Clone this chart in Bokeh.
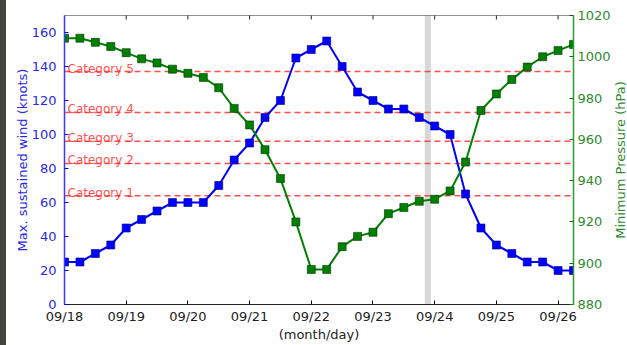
import math
import pandas as pd
from bokeh.plotting import figure
from bokeh.models import (Range1d, LinearAxis, DatetimeTickFormatter,
                          DaysTicker, SingleIntervalTicker, Span, Div)
from bokeh.layouts import row
from bokeh.core.properties import value
from bokeh.embed import file_html
from bokeh.resources import INLINE

# ---------------- data ----------------
start_time = "2014-09-18 00:00"
wind_knots = [25, 25, 30, 35, 45, 50, 55, 60, 60, 60,
              70, 85, 95, 110, 120, 145, 150, 155, 140, 125,
              120, 115, 115, 110, 105, 100, 65, 45, 35, 30,
              25, 25, 20, 20]
pressure_hpa = [1009, 1009, 1007, 1005, 1002, 999, 997, 994, 992, 990,
                985, 975, 967, 955, 941, 920, 897, 897, 908, 913,
                915, 924, 927, 930, 931, 935, 949, 974, 982, 989,
                995, 1000, 1003, 1006]
category_names = ["Category 1", "Category 2", "Category 3", "Category 4", "Category 5"]
category_knots = [64, 83, 96, 113, 137]
day_ticks = ["2014-09-18", "2014-09-19", "2014-09-20", "2014-09-21", "2014-09-22",
             "2014-09-23", "2014-09-24", "2014-09-25", "2014-09-26"]
current_time = "2014-09-23 21:20"
wind_range = (0, 170)
pressure_range = (880, 1020)
pressure_title = "Minimum Pressure (hPa)"

times = pd.date_range(start_time, periods=len(wind_knots), freq="6h")
tick_times = pd.to_datetime(day_ticks)

FONT = "DejaVu Sans"
BLUE = "#0000ff"
GREEN = "#008000"
BLUE_TXT = "#2a2ae6"
GREEN_TXT = "#2e8b2e"
TOP, BOTTOM = 15, 41

p = figure(width=607, height=345, x_axis_type="datetime",
           x_range=Range1d(times[0], times[-1]),
           y_range=Range1d(*wind_range),
           output_backend="svg", toolbar_location=None,
           min_border_left=58, min_border_right=35,
           min_border_top=TOP, min_border_bottom=BOTTOM)
pressure_y = Range1d(*pressure_range)
p.extra_y_ranges = {"pressure": pressure_y}
p.outline_line_color = None
p.xgrid.grid_line_color = None
p.ygrid.grid_line_color = None
p.background_fill_color = "white"
p.border_fill_color = "white"

# gray "current time" bar
p.add_layout(Span(location=pd.Timestamp(current_time).timestamp() * 1000,
                  dimension="height", line_color="#d8d8d8", line_width=6,
                  level="underlay"))

# category lines
for v in category_knots:
    p.add_layout(Span(location=v, dimension="width", line_color="#ff3030",
                      line_dash="6 4", line_width=1.5, line_alpha=0.85,
                      level="underlay"))

p.text(x=[times[0]] * len(category_knots), y=category_knots, text=category_names,
       x_offset=3, y_offset=-3, text_baseline="alphabetic", text_align="left",
       text_font=value(FONT), text_font_size="12px",
       text_color="#ff2020", text_alpha=0.8)

# wind series
p.line(times, wind_knots, line_color=BLUE, line_width=2)
p.scatter(times, wind_knots, marker="square", size=8, fill_color=BLUE,
          line_color="#000080", line_width=0.6)

# pressure series
p.line(times, pressure_hpa, y_range_name="pressure", line_color=GREEN, line_width=2)
p.scatter(times, pressure_hpa, y_range_name="pressure", marker="square", size=8,
          fill_color=GREEN, line_color="#003300", line_width=0.6)

# top spine with inward ticks (half of each dash is clipped by the frame)
p.add_layout(Span(location=wind_range[1], dimension="width",
                  line_color="#222222", line_width=1))
p.scatter(tick_times, [wind_range[1]] * len(tick_times), marker="dash",
          angle=math.pi / 2, size=8, line_color="#222222", line_width=1)

day_ticker = DaysTicker(days=list(range(1, 32)))
fmt = DatetimeTickFormatter(days="%m/%d", months="%m/%d", hours="%m/%d")

# bottom axis
xa = p.xaxis[0]
xa.ticker = day_ticker
xa.formatter = fmt
xa.axis_label = "(month/day)"
xa.axis_label_text_font = FONT
xa.axis_label_text_font_size = "13px"
xa.axis_label_text_font_style = "normal"
xa.axis_label_text_color = "#222222"
xa.axis_label_standoff = 0
xa.major_label_text_font = FONT
xa.major_label_text_font_size = "13px"
xa.major_label_text_color = "#222222"
xa.major_label_standoff = 4
xa.major_tick_in = 4
xa.major_tick_out = 0
xa.minor_tick_line_color = None
xa.axis_line_color = "#222222"

# left axis
ya = p.yaxis[0]
ya.ticker = SingleIntervalTicker(interval=20)
ya.axis_label = "Max. sustained wind (knots)"
ya.axis_label_text_font = FONT
ya.axis_label_text_font_size = "13px"
ya.axis_label_text_font_style = "normal"
ya.axis_label_text_color = BLUE_TXT
ya.axis_label_standoff = -1
ya.major_label_text_font = FONT
ya.major_label_text_font_size = "13px"
ya.major_label_text_color = BLUE_TXT
ya.major_label_standoff = 4
ya.major_tick_in = 4
ya.major_tick_out = 0
ya.major_tick_line_color = BLUE
ya.minor_tick_line_color = None
ya.axis_line_color = "#3a3aff"
ya.axis_line_width = 1.5

# right axis (ticks and labels)
ra = LinearAxis(y_range_name="pressure", ticker=SingleIntervalTicker(interval=20),
                major_label_text_font=FONT, major_label_text_font_size="13px",
                major_label_text_color=GREEN_TXT, major_label_standoff=0,
                major_tick_in=4, major_tick_out=0, major_tick_line_color=GREEN,
                minor_tick_line_color=None, axis_line_color="#2e9a2e",
                axis_line_width=1.5)
p.add_layout(ra, "right")

# narrow strip holding the right-axis title, reading bottom-to-top
lab = figure(width=14, height=345, x_range=Range1d(0, 1), y_range=pressure_y,
             output_backend="svg", toolbar_location=None,
             x_axis_location=None, y_axis_location=None,
             min_border_left=0, min_border_right=0,
             min_border_top=TOP, min_border_bottom=BOTTOM)
lab.outline_line_color = None
lab.xgrid.grid_line_color = None
lab.ygrid.grid_line_color = None
lab.text(x=[0.5], y=[sum(pressure_range) / 2], text=[pressure_title],
         angle=math.pi / 2, text_align="center", text_baseline="middle",
         text_font=value(FONT), text_font_size="13px", text_color=GREEN_TXT)

strip = Div(width=6, height=345, margin=(0, 0, 0, 0),
            styles={"background-color": "#45443e"})
layout = row(strip, p, lab, margin=(0, 0, 0, 0), spacing=0)

open("out.html", "w").write(file_html(layout, INLINE))
